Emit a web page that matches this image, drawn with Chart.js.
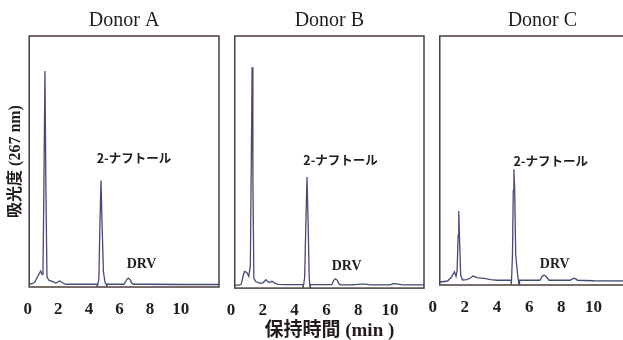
<!DOCTYPE html>
<html>
<head>
<meta charset="utf-8">
<title>HPLC chromatograms</title>
<script src="https://cdn.jsdelivr.net/npm/chart.js@4.4.1/dist/chart.umd.min.js"></script>
<style>
  html, body { margin: 0; padding: 0; background: #fff; }
  body { position: relative; width: 623px; height: 340px; overflow: hidden; }
  canvas { position: absolute; top: 0; }
</style>
</head>
<body>
<canvas id="donorA" width="224" height="340" style="left:0px"></canvas>
<canvas id="donorB" width="213" height="343" style="left:215px"></canvas>
<canvas id="donorC" width="228" height="340" style="left:417px"></canvas>
<script>
const xTicks = [0, 2, 4, 6, 8, 10];
const donors = ['Donor A', 'Donor B', 'Donor C'];
const peakNames = ['2-ナフトール', 'DRV'];

// retention time (min) / absorbance at 267 nm (relative units, 0-100)
const timeA = [0.1, 0.3, 0.47, 0.67, 0.85, 0.94, 1.0, 1.06, 1.13, 1.19, 1.26, 1.4, 1.6, 1.85, 2.1, 2.3, 2.5, 3.5,
  4.53, 4.55, 4.65, 4.72, 4.79, 4.86, 4.95, 5.05, 5.18, 5.2, 6.0, 6.3, 6.42, 6.5, 6.58, 6.68, 6.78, 6.9, 8.0, 10.0, 12.5];
const absA = [1.2, 1.3, 2.0, 4.4, 6.4, 5.0, 6.0, 40, 86.1, 40, 4.0, 2.6, 2.2, 1.6, 2.4, 1.6, 1.1, 1.1,
  1.1, 0.1, 3.0, 25, 42.4, 25, 6.0, 2.0, 0.3, 1.1, 1.1, 1.1, 2.4, 3.2, 3.5, 3.0, 1.8, 1.1, 1.1, 1.0, 1.0];

const timeB = [0.24, 0.5, 0.64, 0.78, 0.85, 1.0, 1.12, 1.22, 1.28, 1.33, 1.38, 1.44, 1.55, 1.8, 2.0, 2.2, 2.38, 2.58, 2.75, 2.95, 3.5,
  4.52, 4.54, 4.63, 4.71, 4.78, 4.85, 4.92, 4.97, 4.99, 5.6, 6.34, 6.45, 6.55, 6.66, 6.78, 6.87, 7.6, 8.2, 8.4, 8.8, 10.0, 10.2, 10.4, 10.8, 12.13];
const absB = [1.2, 1.2, 1.4, 5.2, 6.6, 6.2, 4.7, 9.0, 50, 87.6, 45, 4.0, 2.6, 2.0, 2.0, 3.3, 2.2, 2.7, 2.0, 1.5, 1.35,
  1.35, 0.1, 4.0, 26, 44.1, 26, 4.0, 0.1, 1.35, 1.35, 1.35, 3.0, 3.7, 3.2, 1.8, 1.3, 1.3, 1.6, 1.6, 1.3, 1.3, 1.8, 1.7, 1.3, 1.3];

const timeC = [0.44, 0.6, 0.92, 1.15, 1.35, 1.45, 1.52, 1.58, 1.62, 1.67, 1.74, 1.85, 2.1, 2.3, 2.52, 2.75, 3.0, 3.3, 3.6, 4.0,
  4.87, 4.89, 4.96, 5.01, 5.05, 5.1, 5.16, 5.3, 5.37, 5.4, 6.0, 6.67, 6.8, 6.92, 7.05, 7.24, 8.0, 8.55, 8.7, 8.8, 8.9, 9.0, 10.0, 13.2];
const absC = [1.3, 1.3, 1.6, 3.0, 5.3, 3.5, 6.0, 20, 29.7, 18, 4.0, 2.0, 2.2, 2.6, 3.6, 3.0, 2.8, 2.6, 2.2, 1.9,
  1.9, 0.1, 12, 38, 46.5, 38, 12, 3.0, 0.1, 1.9, 1.9, 1.9, 3.4, 4.0, 3.4, 1.9, 1.9, 1.9, 2.5, 2.7, 2.5, 1.9, 1.7, 1.6];

// peak labels: [time, absorbance] where each name is placed
const noteTimeA = [4.51, 7.44];
const noteAbsA = [51.2, 9.2];
const noteTimeB = [4.55, 7.27];
const noteAbsB = [50.9, 8.6];
const noteTimeC = [5.02, 7.59];
const noteAbsC = [49.8, 8.4];

const ink = '#231c1c';
const traceColor = '#474a76';
const serif = '"Liberation Serif", "Noto Sans CJK JP", serif';

const frame = {
  id: 'frame',
  afterDatasetsDraw(chart) {
    const { ctx, chartArea: a } = chart;
    ctx.save();
    ctx.strokeStyle = '#4e3c3c';
    ctx.lineWidth = 1.5;
    ctx.strokeRect(a.left, a.top, a.right - a.left, a.bottom - a.top);
    ctx.restore();
  }
};

const peakNotes = {
  id: 'peakNotes',
  afterDatasetsDraw(chart, args, opts) {
    const { ctx, scales: { x, y } } = chart;
    ctx.save();
    ctx.fillStyle = ink;
    ctx.textBaseline = 'middle';
    // first name (2-naphthol) sits left-aligned, DRV is centred
    ctx.font = 'bold 12.5px "Noto Sans CJK JP", sans-serif';
    ctx.textAlign = 'left';
    ctx.fillText(peakNames[0], x.getPixelForValue(opts.times[0]), y.getPixelForValue(opts.abs[0]));
    ctx.font = 'bold 14px "Liberation Serif", serif';
    ctx.textAlign = 'center';
    ctx.fillText(peakNames[1], x.getPixelForValue(opts.times[1]), y.getPixelForValue(opts.abs[1]));
    ctx.restore();
  }
};

function makeChart(id, title, times, abs, noteTimes, noteAbs, xMin, xMax, pad, showY, showXTitle) {
  const points = times.map((t, i) => ({ x: t, y: abs[i] }));
  return new Chart(document.getElementById(id), {
    type: 'line',
    data: {
      datasets: [{
        data: points,
        borderColor: traceColor,
        borderWidth: 1.3,
        pointRadius: 0,
        tension: 0,
        fill: false
      }]
    },
    options: {
      responsive: false,
      animation: false,
      events: [],
      layout: { padding: pad },
      scales: {
        x: {
          type: 'linear',
          min: xMin,
          max: xMax,
          afterBuildTicks: axis => { axis.ticks = xTicks.map(v => ({ value: v })); },
          grid: { display: false, drawTicks: false },
          border: { display: false },
          ticks: {
            color: ink,
            padding: 12,
            maxRotation: 0,
            autoSkip: false,
            font: { family: serif, size: 17, weight: 'bold' }
          },
          title: {
            display: showXTitle,
            text: '保持時間 (min )',
            color: ink,
            padding: { top: -11, bottom: 0 },
            font: { family: serif, size: 19, weight: 'bold', lineHeight: 1.0 }
          }
        },
        y: {
          min: 0,
          max: 100,
          display: showY,
          grid: { display: false, drawTicks: false },
          border: { display: false },
          ticks: { display: false },
          title: {
            display: true,
            text: '吸光度 (267 nm)',
            color: ink,
            padding: { top: 3, bottom: 4 },
            font: { family: serif, size: 16, weight: 'bold' }
          }
        }
      },
      plugins: {
        legend: { display: false },
        tooltip: { enabled: false },
        title: {
          display: true,
          text: title,
          fullSize: false,
          color: ink,
          padding: { top: 9, bottom: 3 },
          font: { family: serif, size: 20, weight: 'normal' }
        },
        peakNotes: { times: noteTimes, abs: noteAbs }
      }
    },
    plugins: [frame, peakNotes]
  });
}

makeChart('donorA', donors[0], timeA, absA, noteTimeA, noteAbsA, 0.1, 12.5,
  { left: 3, right: 5, top: 0, bottom: 8.6 }, true, false);
makeChart('donorB', donors[1], timeB, absB, noteTimeB, noteAbsB, 0.24, 12.13,
  { left: 16, right: 4, top: 0, bottom: 2.5 }, false, true);
makeChart('donorC', donors[2], timeC, absC, noteTimeC, noteAbsC, 0.44, 13.2,
  { left: 16, right: 0, top: 0, bottom: 10.6 }, false, false);
</script>
</body>
</html>
